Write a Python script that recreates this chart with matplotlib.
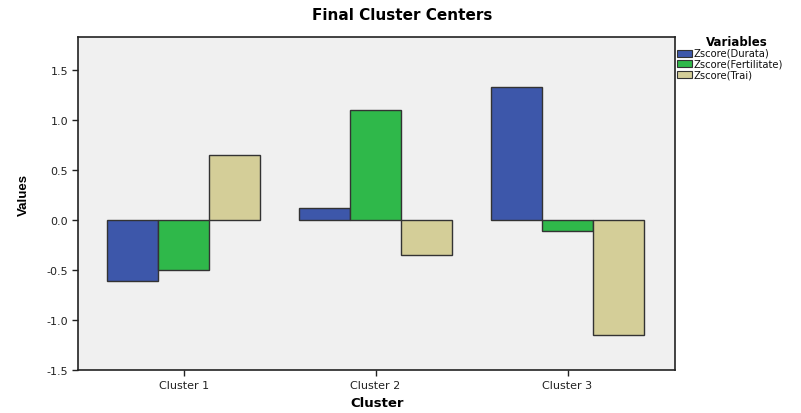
import matplotlib
matplotlib.use("Agg")
import matplotlib.pyplot as plt
import numpy as np
from matplotlib.patches import Rectangle

plt.rcParams['font.family'] = ['DejaVu Sans']

clusters = ["Cluster 1", "Cluster 2", "Cluster 3"]
series_names = ["Zscore(Durata)", "Zscore(Fertilitate)", "Zscore(Trai)"]
durata = [-0.61, 0.12, 1.33]
fertilitate = [-0.50, 1.10, -0.11]
trai = [0.65, -0.35, -1.15]
colors = ["#3d57aa", "#2fb84a", "#d4ce98"]
yticks = [-1.5, -1.0, -0.5, 0.0, 0.5, 1.0, 1.5]

W, H = 801, 414
fig = plt.figure(figsize=(W/100, H/100), dpi=100)
ax = fig.add_axes([78/W, 1-371/H, (675-78)/W, (371-37.5)/H])
ax.set_facecolor("#f0f0f0")

x = np.arange(len(clusters))
w = 0.266
for i, (vals, c) in enumerate(zip([durata, fertilitate, trai], colors)):
    ax.bar(x + (i-1)*w, vals, width=w, color=c, edgecolor="#333333", linewidth=1.0)

ax.set_xlim(-0.55, 2.56)
ax.set_ylim(-1.5, 1.837)
ax.set_yticks(yticks)
ax.set_yticklabels([f"{v:.1f}" for v in yticks], fontsize=8, color="#222222")
ax.set_xticks(x)
ax.set_xticklabels(clusters, fontsize=8, color="#222222")
ax.tick_params(axis='both', direction='out', length=4, width=1, color="#222222", pad=3)
for s in ax.spines.values():
    s.set_linewidth(1.2)
    s.set_color("#222222")

fig.text(24/W, 1-195/H, "Values", fontsize=9.5, fontweight='bold', rotation=90,
         ha='center', va='center', family=['Liberation Sans Narrow', 'Liberation Sans'])
fig.text(377/W, 1-404/H, "Cluster", fontsize=9.5, fontweight='bold', ha='center', va='center')
fig.text(402/W, 1-15/H, "Final Cluster Centers", fontsize=11, fontweight='bold',
         ha='center', va='center')

# legend
fig.text(737/W, 1-43/H, "Variables", fontsize=8.5, fontweight='bold', ha='center', va='center')
row_y = [54, 64.5, 75]
for name, c, yy in zip(series_names, colors, row_y):
    fig.patches.append(Rectangle((677/W, 1-(yy+3.5)/H), 15/W, 7/H, transform=fig.transFigure,
                                 facecolor=c, edgecolor="#333333", linewidth=0.8))
    fig.text(694/W, 1-yy/H, name, fontsize=7.2, ha='left', va='center', color="#111111")

fig.savefig("out.png", dpi=100)
